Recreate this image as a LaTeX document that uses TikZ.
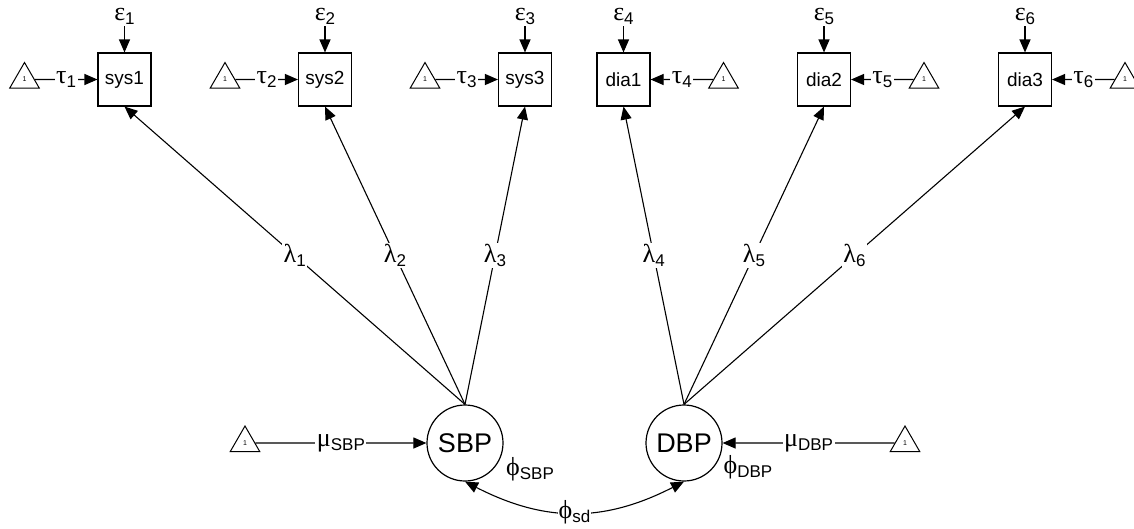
\documentclass[tikz,border=0pt]{standalone}
\usepackage{fontspec}
\setmainfont{Liberation Sans}
\newfontfamily\gk{Liberation Serif}
\usetikzlibrary{arrows.meta,shapes.geometric}
% Greek symbol with a lowered sans-serif subscript
\newcommand\gsym[2]{{\gk\fontsize{26pt}{26pt}\selectfont #1}\raisebox{-4pt}{\fontsize{17pt}{17pt}\selectfont #2}}
\tikzset{
  obs/.style={draw, line width=1.1pt, minimum size=53pt, inner sep=0pt,
    font=\fontsize{19pt}{20pt}\selectfont},
  lat/.style={circle, draw, line width=1.2pt, minimum size=76pt, inner sep=0pt,
    font=\fontsize{27pt}{28pt}\selectfont},
  one/.style={regular polygon, regular polygon sides=3, draw, line width=1pt,
    minimum size=34pt, inner sep=0pt, fill=white, font=\fontsize{7pt}{7pt}\selectfont},
  tip/.tip={Triangle[length=13pt,width=11pt]},
  conn/.style={line width=1.1pt, -tip},
  lab/.style={fill=white, inner sep=1.5pt},
  errlab/.style={inner sep=2pt}
}
\begin{document}
\begin{tikzpicture}[x=1pt, y=-1pt]
\useasboundingbox (0,0) rectangle (1134,528);

% indicators
\node[obs] (sys1) at (124.5,79.5) {sys1};
\node[obs] (sys2) at (325,79.5) {sys2};
\node[obs] (sys3) at (525,79.5) {sys3};
\node[obs] (dia1) at (623.5,79.5) {dia1};
\node[obs] (dia2) at (824,79.5) {dia2};
\node[obs] (dia3) at (1025,79.5) {dia3};

% latent factors
\node[lat] (SBP) at (465,443) {SBP};
\node[lat] (DBP) at (684,443) {DBP};

% constants
\node[one] (c1) at (24.5,79.5) {1};
\node[one] (c2) at (225,79.5) {1};
\node[one] (c3) at (425,79.5) {1};
\node[one] (c4) at (723.5,79.5) {1};
\node[one] (c5) at (924,79.5) {1};
\node[one] (c6) at (1125,79.5) {1};
\node[one] (cS) at (245,443) {1};
\node[one] (cD) at (905,443) {1};

% error terms
\node[errlab] (e1) at (124.5,16) {\gsym{ε}{1}};
\node[errlab] (e2) at (325,16) {\gsym{ε}{2}};
\node[errlab] (e3) at (525,16) {\gsym{ε}{3}};
\node[errlab] (e4) at (623.5,16) {\gsym{ε}{4}};
\node[errlab] (e5) at (824,16) {\gsym{ε}{5}};
\node[errlab] (e6) at (1025,16) {\gsym{ε}{6}};
\foreach \e/\v in {e1/sys1,e2/sys2,e3/sys3,e4/dia1,e5/dia2,e6/dia3}
  \draw[conn] (\e) -- (\v);

% intercepts
\draw[conn] (c1) -- node[lab] {\gsym{τ}{1}} (sys1);
\draw[conn] (c2) -- node[lab] {\gsym{τ}{2}} (sys2);
\draw[conn] (c3) -- node[lab] {\gsym{τ}{3}} (sys3);
\draw[conn] (c4) -- node[lab] {\gsym{τ}{4}} (dia1);
\draw[conn] (c5) -- node[lab] {\gsym{τ}{5}} (dia2);
\draw[conn] (c6) -- node[lab] {\gsym{τ}{6}} (dia3);

% loadings
\draw[conn] (SBP.north) -- node[lab] {\gsym{λ}{1}} (sys1.south);
\draw[conn] (SBP.north) -- node[lab] {\gsym{λ}{2}} (sys2.south);
\draw[conn] (SBP.north) -- node[lab] {\gsym{λ}{3}} (sys3.south);
\draw[conn] (DBP.north) -- node[lab] {\gsym{λ}{4}} (dia1.south);
\draw[conn] (DBP.north) -- node[lab] {\gsym{λ}{5}} (dia2.south);
\draw[conn] (DBP.north) -- node[lab] {\gsym{λ}{6}} (dia3.south);

% factor means
\draw[conn] (cS) -- node[lab] {\gsym{μ}{SBP}} (SBP);
\draw[conn] (cD) -- node[lab] {\gsym{μ}{DBP}} (DBP);

% factor variances and covariance
\node (vS) at (530,469) {\gsym{ϕ}{SBP}};
\node (vD) at (748,467) {\gsym{ϕ}{DBP}};
\draw[line width=1.1pt, tip-tip] (SBP.south) .. controls +(80,41) and +(-80,41) ..
  node[lab, inner sep=0.5pt] {\gsym{ϕ}{sd}} (DBP.south);
\end{tikzpicture}
\end{document}
